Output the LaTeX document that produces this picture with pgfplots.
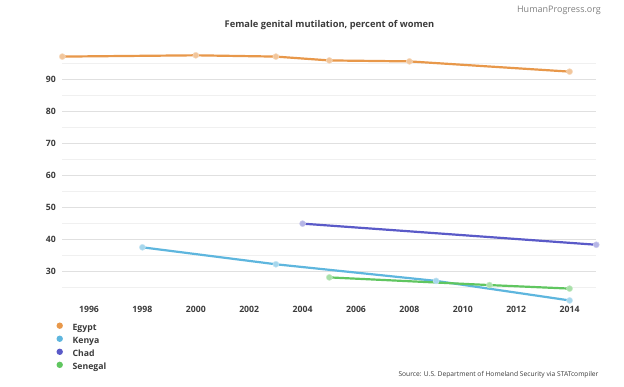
\documentclass[border=0pt]{standalone}
\usepackage{fontspec}
\setmainfont{Open Sans}
\usepackage{pgfplots}
\pgfplotsset{compat=1.18}
\definecolor{egypt}{RGB}{232,152,74}
\definecolor{kenya}{RGB}{94,182,222}
\definecolor{chad}{RGB}{90,90,200}
\definecolor{senegal}{RGB}{96,198,96}
\definecolor{txt}{RGB}{60,60,60}
\begin{document}
\begin{tikzpicture}[x=1pt,y=1pt]
\path[use as bounding box, fill=white] (0,0) rectangle (624,386);
\node[font=\fontsize{9.3}{11}\selectfont\bfseries, text=txt] at (329.5,361) {Female genital mutilation, percent of women};
\node[font=\fontsize{9}{11}\selectfont, text=gray] at (559,376) {HumanProgress.org};
\node[font=\fontsize{6.7}{8}\selectfont, text=txt, anchor=east] at (602,11) {Source: U.S. Department of Homeland Security via STATcompiler};
\begin{axis}[
  at={(62.3pt,83pt)}, anchor=south west,
  scale only axis, width=534pt, height=248pt,
  xmin=1995, xmax=2015, ymin=20, ymax=97.5,
  axis line style={draw=none},
  major tick length=0pt, minor tick length=0pt,
  xtick={1996,1998,...,2014},
  ytick={30,40,...,90},
  minor ytick={25,35,...,95},
  ymajorgrids, yminorgrids,
  major grid style={draw=black!12, line width=0.6pt},
  minor grid style={draw=black!6, line width=0.6pt},
  /pgf/number format/assume math mode=true,
  xticklabel={\pgfmathprintnumber[1000 sep={}]{\tick}},
  ticklabel style={font=\fontsize{8.7}{10}\selectfont\bfseries, text=txt},
  yticklabel style={xshift=-3pt},
  clip=false,
  legend style={at={(rel axis cs:-0.0129,-0.0778)}, anchor=north west, draw=none, fill=none,
    font=\fontsize{8.7}{10}\selectfont\bfseries, text=txt, row sep=2.8pt, column sep=0pt, inner sep=0pt,
    nodes={inner sep=0pt, text height=6.5pt, text depth=2pt}},
  legend cell align=left,
  legend image code/.code={\fill[#1, draw=none] (3pt,2.8pt) circle (3.2pt); \path (0pt,0pt) (14.8pt,0pt);},
  every axis plot/.append style={line width=2.2pt, mark=*, mark size=3pt},
]
\addplot[color=egypt, mark options={fill=egypt!55!white, draw=egypt!35!white, line width=0.5pt}] coordinates {
(1995,97.0) (2000,97.4) (2003,97.0) (2005,95.8) (2008,95.5) (2014,92.3)};
\addlegendentry{Egypt}
\addplot[color=kenya, mark options={fill=kenya!55!white, draw=kenya!35!white, line width=0.5pt}] coordinates {
(1998,37.4) (2003,32.1) (2009,26.9) (2014,20.8)};
\addlegendentry{Kenya}
\addplot[color=chad, mark options={fill=chad!45!white, draw=chad!30!white, line width=0.5pt}] coordinates {
(2004,44.8) (2015,38.2)};
\addlegendentry{Chad}
\addplot[color=senegal, mark options={fill=senegal!55!white, draw=senegal!35!white, line width=0.5pt}] coordinates {
(2005,28.0) (2011,25.6) (2014,24.5)};
\addlegendentry{Senegal}
\end{axis}
\end{tikzpicture}
\end{document}
